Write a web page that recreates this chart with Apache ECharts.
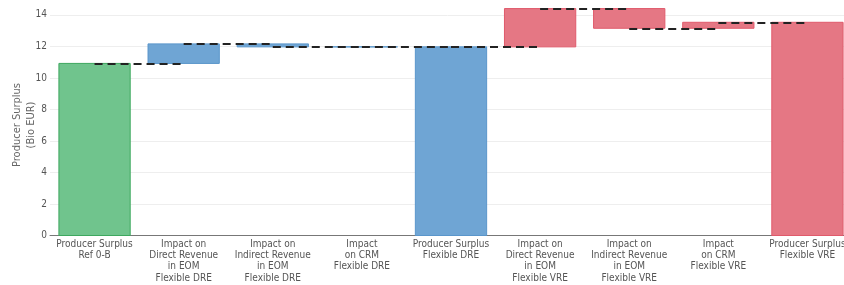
<!DOCTYPE html>
<html>
<head>
<meta charset="utf-8">
<script src="https://cdn.jsdelivr.net/npm/echarts@6/dist/echarts.min.js"></script>
<style>
  html, body { margin: 0; padding: 0; background: #fff; }
  #chart { width: 844px; height: 285px; }
</style>
</head>
<body>
<div id="chart"></div>
<script>
  // waterfall steps (Bio EUR); 'total' bars are drawn from zero
  var categories = [
    'Producer Surplus\nRef 0-B',
    'Impact on\nDirect Revenue\nin EOM\nFlexible DRE',
    'Impact on\nIndirect Revenue\nin EOM\nFlexible DRE',
    'Impact\non CRM\nFlexible DRE',
    'Producer Surplus\nFlexible DRE',
    'Impact on\nDirect Revenue\nin EOM\nFlexible VRE',
    'Impact on\nIndirect Revenue\nin EOM\nFlexible VRE',
    'Impact\non CRM\nFlexible VRE',
    'Producer Surplus\nFlexible VRE'
  ];
  var deltas = [10.92, 1.24, -0.19, 0, null, 2.43, -1.25, 0.38, null];
  var groups = ['green', 'blue', 'blue', 'blue', 'blue', 'red', 'red', 'red', 'red'];
  var yTicks = [0, 2, 4, 6, 8, 10, 12, 14];
  var yTitle = 'Producer Surplus\n(Bio EUR)';

  var palette = {
    green: { fill: '#70c48d', border: '#3ea85f' },
    blue:  { fill: '#6fa5d4', border: '#5a96cb' },
    red:   { fill: '#e57784', border: '#e05a6b' }
  };

  // build the floating bars and connector levels
  var bars = [];
  var levels = [];
  var running = 0;
  for (var i = 0; i < categories.length; i++) {
    var lo, hi;
    if (deltas[i] === null) {
      lo = 0; hi = running;
    } else if (i === 0) {
      running = deltas[i]; lo = 0; hi = running;
    } else {
      lo = running; running = running + deltas[i]; hi = running;
    }
    levels.push(running);
    var c = palette[groups[i]];
    bars.push({
      value: [i, Math.min(lo, hi), Math.max(lo, hi)],
      itemStyle: { color: c.fill, borderColor: c.border, borderWidth: 1 }
    });
  }

  var connectors = [];
  for (var k = 0; k < categories.length - 1; k++) {
    connectors.push([{ coord: [k, levels[k]] }, { coord: [k + 1, levels[k]] }]);
  }

  var chart = echarts.init(document.getElementById('chart'));
  chart.setOption({
    animation: false,
    grid: {
      left: 50, width: 802, top: 7, height: 228.5,
      containLabel: false, outerBoundsMode: 'none'
    },
    // y axis title, rotated
    graphic: [{
      type: 'text',
      x: 24, y: 125,
      rotation: Math.PI / 2,
      style: {
        text: yTitle,
        fill: '#666',
        fontSize: 11,
        lineHeight: 14,
        fontFamily: 'DejaVu Sans Condensed',
        align: 'center',
        verticalAlign: 'middle'
      }
    }],
    xAxis: {
      type: 'category',
      data: categories,
      axisLine: { show: true, lineStyle: { color: '#777', width: 1 } },
      axisTick: { show: false },
      axisLabel: {
        interval: 0, color: '#555', fontSize: 10, lineHeight: 11.3,
        fontFamily: 'DejaVu Sans Condensed', margin: 3
      }
    },
    yAxis: {
      type: 'value',
      min: 0, max: 14.5, interval: 2,
      axisLine: { show: false },
      axisTick: { show: false },
      axisLabel: {
        color: '#555', fontSize: 10, margin: 3,
        fontFamily: 'DejaVu Sans Condensed', showMaxLabel: false,
        formatter: function (v) { return yTicks.indexOf(v) >= 0 ? v : ''; }
      },
      splitLine: { lineStyle: { color: '#eeeeee' }, showMaxLine: false }
    },
    series: [{
      type: 'custom',
      data: bars,
      encode: { x: 0, y: [1, 2] },
      renderItem: function (params, api) {
        var start = api.coord([api.value(0), api.value(1)]);
        var end = api.coord([api.value(0), api.value(2)]);
        var w = api.size([1, 0])[0] * 0.8;
        return {
          type: 'rect',
          shape: { x: start[0] - w / 2, y: end[1], width: w, height: start[1] - end[1] },
          style: api.style()
        };
      },
      markLine: {
        symbol: 'none',
        silent: true,
        label: { show: false },
        lineStyle: { color: '#222', type: [8, 5], width: 2 },
        data: connectors
      },
      z: 2
    }]
  });
</script>
</body>
</html>
